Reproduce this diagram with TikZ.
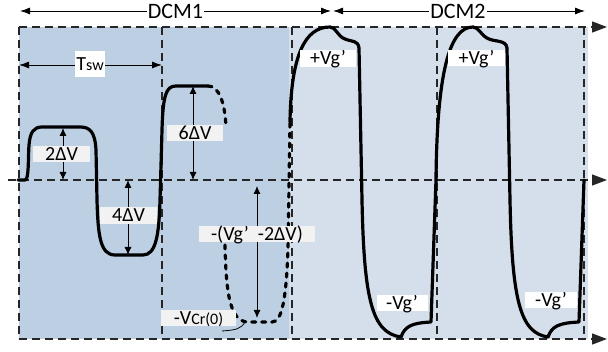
\documentclass[tikz,border=0pt]{standalone}
\usepackage{fontspec}
\setmainfont{Carlito}
\usetikzlibrary{arrows.meta}
\definecolor{bgdark}{HTML}{BDCFE3}
\definecolor{bglight}{HTML}{D5DFEB}
\definecolor{lblgray}{HTML}{F2F2F2}
\newcommand\lblfont{\fontsize{20}{20}\selectfont}
\newcommand\dcmfont{\fontsize{22}{22}\selectfont}
\newcommand\smallsub{\fontsize{16}{16}\selectfont}
\begin{document}
\begin{tikzpicture}[x=1pt,y=-1pt,
  grid/.style={line width=1.3pt, dash pattern=on 8pt off 5pt, black!85},
  axisarrow/.style={-{Triangle[length=15pt,width=11pt]}},
  wave/.style={line width=3.2pt, line cap=round, line join=round},
  wavedash/.style={line width=3.2pt, line cap=round, dash pattern=on 4pt off 6pt},
  dim/.style={line width=0.9pt, {Latex[length=8pt,width=7pt]}-{Latex[length=8pt,width=7pt]}},
  spanarrow/.style={line width=0.9pt, {Latex[length=10pt,width=7pt]}-{Latex[length=10pt,width=7pt]}},
  lbl/.style={fill=lblgray, inner xsep=0pt, inner ysep=0.8pt, text height=13.5pt, text depth=1pt, font=\lblfont},
  wlbl/.style={lbl, fill=white}
]
\useasboundingbox (0,0) rectangle (608,352);
\fill[white] (0,0) rectangle (608,352);
% backgrounds
\fill[bgdark] (19,27) rectangle (289,339);
\fill[bglight] (289,27) rectangle (588,339);
% grid
\foreach \x in {19,162,292,437,584} \draw[grid] (\x,27) -- (\x,339);
\coordinate (t0) at (19,27);   \coordinate (t1) at (607,27);
\coordinate (m0) at (8,180);   \coordinate (m1) at (607,180);
\coordinate (b0) at (19,339);  \coordinate (b1) at (607,339);
\draw[grid, axisarrow] (t0) -- (t1);
\draw[grid, axisarrow] (m0) -- (m1);
\draw[grid, axisarrow] (b0) -- (b1);
% waveform DCM1 (solid)
\draw[wave] (18,180) -- (25,180) .. controls (29,180) and (28,160) .. (29,145)
  .. controls (30,132) and (34,127) .. (42,127) -- (80,127)
  .. controls (90,127) and (95,132) .. (96,150) -- (97,200)
  .. controls (98,235) and (100,255) .. (115,255) -- (143,255)
  .. controls (156,255) and (159,235) .. (160,200) -- (162,130)
  .. controls (163,95) and (166,86) .. (176,86) -- (208,86);
% dashed alternative
\draw[wavedash] (208,86) .. controls (218,86) and (225,100) .. (226,128);
\draw[wavedash] (225,245) .. controls (226,285) and (228,322) .. (248,322) -- (272,322)
  .. controls (282,322) and (286,300) .. (288,250) -- (290,122);
% waveform DCM2 (solid)
\draw[wave] (290,122) .. controls (291,55) and (305,27) .. (330,27)
  .. controls (336,27) and (337,36) .. (345,39)
  .. controls (352,42) and (358,40) .. (359,48)
  -- (362,200)
  .. controls (364,300) and (372,333) .. (401,337)
  .. controls (405,326) and (412,323) .. (431,322)
  -- (436,180)
  .. controls (437,70) and (450,27) .. (473,27)
  .. controls (479,27) and (481,36) .. (489,39)
  .. controls (496,42) and (506,40) .. (507,48)
  -- (510,200)
  .. controls (512,300) and (520,333) .. (548,337)
  .. controls (552,326) and (559,323) .. (579,322)
  -- (584,180);
% dimension arrows
\draw[dim] (63,128) -- (63,180);
\draw[dim] (128,180) -- (128,255);
\draw[dim] (193,86) -- (193,180);
\draw[dim] (257,186) -- (257,318);
\draw[spanarrow] (19,65) -- (162,65);
\draw[spanarrow] (20,11) -- (331,11);
\draw[spanarrow] (333,11) -- (585,11);
% labels
\node[fill=white, inner xsep=1pt, inner ysep=2pt, font=\dcmfont] (dcm1) at (175.5,11) {DCM1};
\node[fill=white, inner xsep=1pt, inner ysep=2pt, font=\dcmfont] (dcm2) at (458,11) {DCM2};
\node[fill=white, inner sep=0pt, minimum width=30pt, minimum height=26pt, font=\lblfont] (tsw) at (90,64.5) {T{\smallsub sw}};
\node[lbl, minimum width=57pt] (l2) at (61.5,154) {2ΔV};
\node[lbl, minimum width=57pt] (l4) at (128.5,215.5) {4ΔV};
\node[lbl, minimum width=56pt] (l6) at (195,133) {6ΔV};
\node[lbl, minimum width=116pt] (lvg) at (257,234) {-(Vg’\ \ -2ΔV)};
\node[lbl, minimum width=75pt] (lcr) at (198.5,318) {-V{\smallsub Cr(0)}};
\node[wlbl, minimum width=56pt] (p1) at (328,58.5) {+Vg’};
\node[wlbl, minimum width=57pt] (p2) at (476.5,58.3) {+Vg’};
\node[wlbl, minimum width=51pt] (n1) at (402,303) {-Vg’};
\node[wlbl, minimum width=52pt] (n2) at (551,300) {-Vg’};
% callout
\coordinate (ca) at (222,331);
\coordinate (cb) at (245,322);
\draw[line width=0.8pt] (ca) .. controls (236,330) and (241,329) .. (cb);
\end{tikzpicture}
\end{document}
